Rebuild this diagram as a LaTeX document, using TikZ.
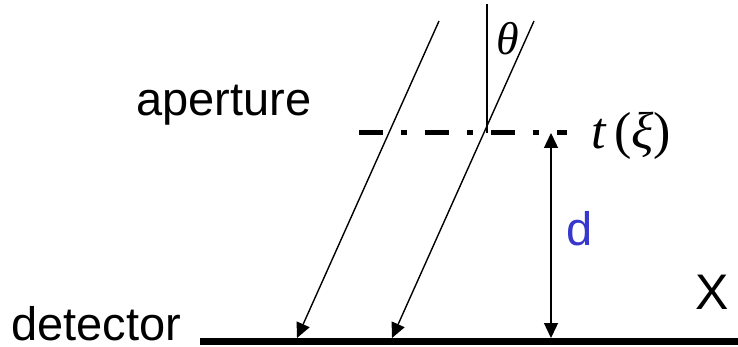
\documentclass[tikz,border=0pt]{standalone}
\usepackage{fontspec}
\setmainfont{Liberation Sans}
\newfontfamily\symfont{Liberation Serif}
\usetikzlibrary{arrows.meta}
\definecolor{dblue}{RGB}{55,55,205}

\begin{document}
\begin{tikzpicture}[x=1pt, y=-1pt,
  ray/.style={line width=1.4pt, -{Triangle[length=15pt,width=14pt]}},
  lbl/.style={anchor=base west, inner sep=0pt, font=\fontsize{47}{56}\selectfont},
  sym/.style={anchor=base west, inner sep=0pt, font=\fontsize{46}{55}\selectfont\symfont}]
\useasboundingbox (0,0) rectangle (738,347);
% aperture and detector planes
\coordinate (apL) at (359,133);
\coordinate (apR) at (567,133);
\coordinate (detL) at (200,341);
\coordinate (detR) at (738,341);
\draw[line width=5pt, dash pattern=on 24pt off 18pt on 6pt off 18pt] (apL) -- (apR);
\draw[line width=7pt] (detL) -- (detR);
% labels
\node[lbl] (aper) at (136,116) {aperture};
\node[lbl] (det) at (11,340) {detector};
\node[lbl, text=dblue] (dlab) at (566,245) {d};
\node[lbl, font=\fontsize{50}{60}\selectfont] (xlab) at (695,309) {X};
\node[sym] (theta) at (496,55) {\itshape θ};
\node[sym, font=\fontsize{52}{60}\selectfont\symfont] (tfun) at (591,149) {\itshape t\,\upshape(\itshape ξ\upshape)};
% incoming rays
\coordinate (r1) at (439,21);
\coordinate (r1e) at (297,338);
\coordinate (r2) at (534,21);
\coordinate (r2e) at (392,338);
\draw[ray] (r1) -- (r1e);
\draw[ray] (r2) -- (r2e);
% normal to the aperture
\coordinate (nTop) at (487,4);
\coordinate (nBot) at (487,133);
\draw[line width=1.4pt] (nTop) -- (nBot);
% distance d
\coordinate (dTop) at (551,133);
\coordinate (dBot) at (551,338);
\draw[ray, {Triangle[length=15pt,width=14pt]}-{Triangle[length=15pt,width=14pt]}] (dTop) -- (dBot);
\end{tikzpicture}
\end{document}
